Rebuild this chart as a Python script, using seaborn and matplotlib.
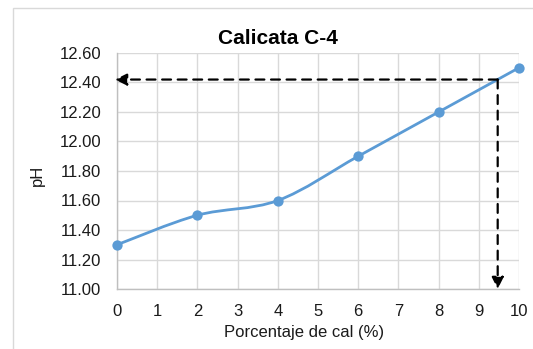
import matplotlib
matplotlib.use("Agg")
import matplotlib.pyplot as plt
from matplotlib.path import Path
from matplotlib.patches import PathPatch, Rectangle
import seaborn as sns
import pandas as pd
import numpy as np

# Data: lime percentage vs pH
cal_pct = [0, 2, 4, 6, 8, 10]
ph_values = [11.30, 11.50, 11.60, 11.90, 12.20, 12.50]

# Reading guide (target pH and matching lime percentage)
guide_x = 9.47
guide_y = 12.42

x_ticks = list(range(0, 11))
y_ticks = [11.00, 11.20, 11.40, 11.60, 11.80, 12.00, 12.20, 12.40, 12.60]

sns.set_theme(style="white")
plt.rcParams["font.family"] = ["Liberation Sans", "DejaVu Sans"]

W, H = 533, 349
fig = plt.figure(figsize=(W / 100, H / 100), dpi=100)
ax = fig.add_axes([117 / W, 1 - 289 / H, (519 - 117) / W, (289 - 53) / H])

# Outer chart border
fig.patches.append(Rectangle((12.5 / W, -0.05), 1.2, 1 - 8 / H + 0.05,
                             transform=fig.transFigure, fill=False,
                             edgecolor="#d9d9d9", linewidth=1.0, zorder=0))

df = pd.DataFrame({"cal": cal_pct, "ph": ph_values})

# Smoothed line through the points (cubic Bezier segments, Catmull-Rom style)
pts = np.column_stack([cal_pct, ph_values]).astype(float)
n = len(pts)
verts = [tuple(pts[0])]
codes = [Path.MOVETO]
for i in range(n - 1):
    p0 = pts[i - 1] if i > 0 else pts[i]
    p1 = pts[i]
    p2 = pts[i + 1]
    p3 = pts[i + 2] if i + 2 < n else pts[i + 1]
    c1 = p1 + (p2 - p0) / 6.0
    c2 = p2 - (p3 - p1) / 6.0
    verts += [tuple(c1), tuple(c2), tuple(p2)]
    codes += [Path.CURVE4, Path.CURVE4, Path.CURVE4]
ax.add_patch(PathPatch(Path(verts, codes), fill=False, edgecolor="#5b9bd5",
                       linewidth=2.0, capstyle="round", zorder=3))

sns.scatterplot(data=df, x="cal", y="ph", ax=ax, color="#5b9bd5", s=55,
                edgecolor="#5b9bd5", linewidth=0, zorder=4, legend=False,
                clip_on=False)

# Dashed guide arrows
arrow_kw = dict(arrowstyle="-|>,head_length=0.7,head_width=0.35",
                color="black", linewidth=1.6, linestyle=(0, (4, 3)),
                shrinkA=0, shrinkB=0, mutation_scale=10)
ax.annotate("", xy=(-0.05, guide_y), xytext=(guide_x, guide_y),
            arrowprops=arrow_kw, zorder=5, annotation_clip=False)
ax.annotate("", xy=(guide_x, 11.0), xytext=(guide_x, guide_y),
            arrowprops=arrow_kw, zorder=5, annotation_clip=False)

ax.set_xlim(0, 10)
ax.set_ylim(11.0, 12.6)
ax.set_xticks(x_ticks)
ax.set_yticks(y_ticks)
ax.set_yticklabels([f"{v:.2f}" for v in y_ticks])
ax.grid(True, color="#d9d9d9", linewidth=1.0)
ax.set_axisbelow(True)
for side in ["top", "right"]:
    ax.spines[side].set_visible(False)
for side in ["left", "bottom"]:
    ax.spines[side].set_color("#bfbfbf")
    ax.spines[side].set_linewidth(1.0)
ax.tick_params(axis="y", length=0, labelsize=12, colors="#1a1a1a", pad=11.5)
ax.tick_params(axis="x", length=0, labelsize=12, colors="#1a1a1a", pad=11)

fig.text(278 / W, 1 - 38 / H, "Calicata C-4", fontsize=15, fontweight="bold",
         color="black", ha="center", va="center")
ax.set_xlabel("Porcentaje de cal (%)", fontsize=12, color="#1a1a1a")
ax.xaxis.set_label_coords((304 - 117) / (519 - 117), -(333 - 289) / (289 - 53))
ax.xaxis.label.set_va("center")
ax.set_ylabel("pH", fontsize=12, color="#1a1a1a")
ax.yaxis.set_label_coords(-(117 - 37) / (519 - 117), (289 - 175) / (289 - 53))
ax.yaxis.label.set_va("center")

fig.savefig("out.png", dpi=100)
